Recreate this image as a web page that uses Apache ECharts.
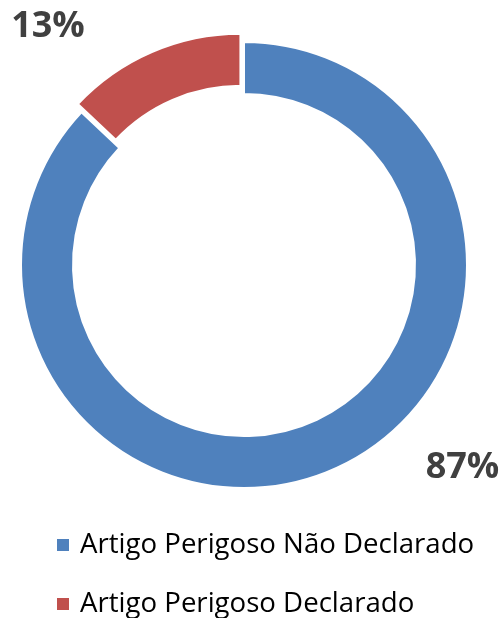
<!DOCTYPE html>
<html>
<head>
<meta charset="utf-8">
<script src="https://cdn.jsdelivr.net/npm/echarts@6/dist/echarts.min.js"></script>
<style>
  html, body { margin: 0; padding: 0; background: #fff; }
  #chart { width: 503px; height: 618px; }
</style>
</head>
<body>
<div id="chart"></div>
<script>
// dados
const categories = ['Artigo Perigoso Não Declarado', 'Artigo Perigoso Declarado']
const values = [87, 13]
const colors = ['#4F81BD', '#C0504D']
// deslocamento dos rótulos em relação ao meio do anel
const labelOffsets = [[139, 19], [-113, -46]]

let chart = echarts.init(document.getElementById('chart'))
let option = {
  animation: false,
  legend: {
    orient: 'vertical',
    left: 55,
    top: 531,
    height: 87,
    padding: 0,
    itemWidth: 14,
    itemHeight: 14,
    itemGap: 31,
    icon: 'rect',
    textStyle: {
      fontFamily: 'Open Sans',
      fontSize: 27.6,
      color: '#000',
      padding: [0, 0, 0, 5],
    },
    data: categories,
  },
  series: [
    {
      type: 'pie',
      center: [244, 265],
      radius: [171, 223],
      startAngle: 90,
      clockwise: true,
      selectedMode: 'single',
      selectedOffset: 9,
      itemStyle: {
        borderColor: '#fff',
        borderWidth: 2,
      },
      labelLine: { show: false },
      label: {
        position: 'inside',
        fontFamily: 'Open Sans',
        fontWeight: 'bold',
        fontSize: 36,
        color: '#404040',
        formatter: p => Math.round(p.percent) + '%',
      },
      emphasis: { disabled: true },
      data: categories.map((name, i) => ({
        name: name,
        value: values[i],
        selected: i === 1,
        itemStyle: { color: colors[i] },
        label: { offset: labelOffsets[i] },
        select: { label: { offset: labelOffsets[i] } },
      })),
    },
  ],
}
chart.setOption(option)
</script>
</body>
</html>
